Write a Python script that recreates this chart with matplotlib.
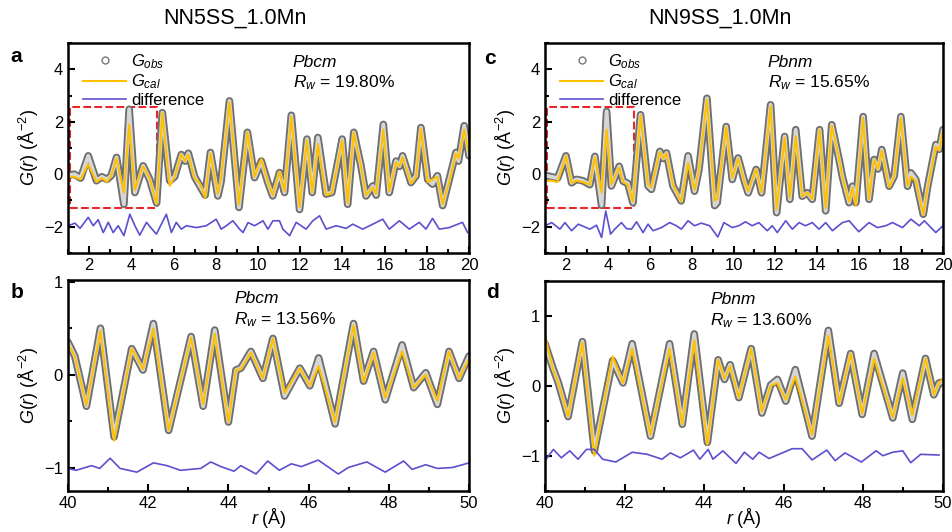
import matplotlib
matplotlib.use('agg')
import matplotlib.pyplot as plt
from matplotlib.lines import Line2D
from matplotlib.patches import Rectangle
from matplotlib.ticker import MultipleLocator

plt.rcParams['font.family'] = ['Liberation Sans', 'DejaVu Sans']
plt.rcParams['mathtext.fontset'] = 'custom'
plt.rcParams['mathtext.rm'] = 'Liberation Sans'
plt.rcParams['mathtext.it'] = 'Liberation Sans:italic'

# ---- panel a : NN5SS_1.0Mn, 1-20 A ----
r_a = [1.0, 1.3, 1.6, 1.96, 2.35, 2.6, 2.85, 3.05, 3.3, 3.65, 3.9, 4.17, 4.56, 4.87, 5.2,
       5.47, 5.82, 6.05, 6.37, 6.55, 6.7, 7.0, 7.25, 7.5, 7.75, 8.1, 8.25, 8.65, 9.1, 9.5,
       9.84, 10.16, 10.47, 10.7, 11.02, 11.26, 11.58, 11.97, 12.32, 12.57, 12.84, 13.23,
       13.5, 13.99, 14.25, 14.54, 14.88, 15.12, 15.44, 15.6, 15.94, 16.22, 16.54, 16.7,
       16.85, 17.25, 17.49, 17.72, 18.04, 18.27, 18.5, 18.75, 19.06, 19.38, 19.5, 19.77, 20.0]
obs_a = [-0.05, 0.0, -0.15, 0.7, -0.25, -0.1, -0.2, -0.05, 0.64, -1.15, 2.48, -0.7, 0.32, -0.2, -1.1,
         2.35, -0.25, -0.1, 0.75, 0.5, 0.8, -0.1, -0.45, -0.8, 0.83, -0.83, -0.3, 2.8, -1.27, 1.6,
         -0.13, 0.5, -0.32, -0.83, 0.06, -0.7, 2.25, -1.35, 1.34, -0.7, 1.4, -0.76,
         -0.7, 1.34, -1.15, 1.6, 0.32, -0.83, -0.45, -0.8, 1.9, -0.7, 0.5, 0.3,
         0.7, -0.32, -0.06, 1.78, -0.2, -0.38, -0.06, -1.2, -0.2, 0.83, 0.5, 1.85, 0.7]
cal_a = [-0.1, -0.1, -0.2, 0.38, -0.3, -0.15, -0.3, -0.05, 0.6, -0.7, 1.9, -0.6, 0.3, -0.15, -1.15,
         2.35, -0.45, -0.1, 0.76, 0.5, 0.75, -0.15, -0.35, -0.9, 0.8, -0.75, -0.2, 2.75, -1.15, 1.6,
         -0.1, 0.57, -0.3, -0.8, 0.1, -0.65, 2.2, -1.25, 1.3, -0.7, 1.15, -0.8,
         -0.72, 1.3, -1.1, 1.6, 0.3, -0.8, -0.5, -0.75, 1.7, -0.65, 0.45, 0.3,
         0.65, -0.35, -0.1, 1.75, -0.3, -0.2, -0.1, -1.15, -0.3, 0.8, 0.6, 1.7, 0.8]
rd_a = [1.02, 1.33, 1.57, 1.96, 2.2, 2.43, 2.67, 2.91, 3.14, 3.38, 3.65, 3.93, 4.17, 4.4, 4.72,
        4.95, 5.19, 5.66, 5.9, 6.13, 6.37, 6.61, 7.08, 7.55, 8.02, 8.26, 8.5, 8.81, 9.13, 9.29,
        9.53, 9.84, 10.24, 10.47, 10.71, 11.02, 11.18, 11.5, 11.81, 12.28, 12.6, 12.92, 13.23,
        13.7, 14.18, 14.49, 14.96, 15.44, 15.91, 16.22, 16.7, 17.17, 17.64, 17.96, 18.27,
        18.59, 19.06, 19.69, 19.93]
diff_a = [-1.97, -1.87, -2.07, -1.65, -1.97, -1.74, -2.23, -1.84, -2.23, -1.97, -2.35, -1.53, -1.97, -2.33, -1.84,
          -2.07, -2.29, -1.53, -2.23, -1.84, -2.1, -1.97, -2.04, -1.97, -1.72, -2.1, -1.97, -1.78, -2.1, -2.23,
          -1.85, -1.97, -1.78, -2.1, -1.78, -1.78, -2.1, -2.35, -1.84, -2.1, -1.78, -1.59, -2.1,
          -1.97, -2.07, -1.91, -2.1, -1.91, -1.72, -2.1, -1.78, -2.1, -1.84, -2.1, -1.69,
          -2.1, -2.04, -1.84, -2.23]

# ---- panel b : NN5SS_1.0Mn, 40-50 A ----
r_b = [40.0, 40.17, 40.46, 40.81, 41.15, 41.59, 41.87, 42.13, 42.51, 43.07, 43.37, 43.66, 44.0,
       44.19, 44.31, 44.56, 44.86, 45.11, 45.4, 45.78, 46.03, 46.25, 46.66, 47.12, 47.37, 47.62,
       47.91, 48.33, 48.62, 48.92, 49.21, 49.5, 49.75, 50.0]
obs_b = [0.35, 0.2, -0.34, 0.5, -0.67, 0.28, 0.05, 0.55, -0.6, 0.41, -0.34, 0.48, -0.51,
         0.05, 0.07, 0.25, -0.04, 0.39, -0.23, 0.07, -0.12, 0.18, -0.53, 0.55, -0.07, 0.25,
         -0.27, 0.32, -0.14, 0.02, -0.32, 0.25, -0.04, 0.2]
cal_b = [0.33, 0.2, -0.33, 0.47, -0.71, 0.28, 0.06, 0.5, -0.6, 0.4, -0.32, 0.44, -0.51,
         0.05, 0.06, 0.24, -0.04, 0.39, -0.2, 0.07, -0.12, 0.09, -0.51, 0.53, -0.08, 0.24,
         -0.25, 0.25, -0.14, 0.0, -0.28, 0.25, -0.04, 0.17]
rd_b = [40.0, 40.2, 40.59, 40.79, 41.05, 41.3, 41.72, 42.13, 42.47, 42.8, 43.31, 43.56, 43.81, 44.14,
        44.31, 44.69, 44.98, 45.27, 45.57, 45.82, 46.24, 46.74, 46.99, 47.45, 47.91, 48.37, 48.58,
        48.92, 49.21, 49.59, 50.0]
diff_b = [-1.01, -1.03, -0.98, -1.01, -0.9, -1.01, -1.05, -0.95, -0.98, -1.03, -1.01, -0.94, -0.99, -1.04,
          -0.98, -1.07, -0.93, -1.03, -0.96, -0.99, -0.92, -1.07, -1.0, -0.94, -1.05, -0.93, -1.02,
          -0.97, -1.01, -1.0, -0.95]

# ---- panel c : NN9SS_1.0Mn, 1-20 A ----
r_c = [1.0, 1.3, 1.6, 2.0, 2.27, 2.5, 2.8, 3.14, 3.38, 3.7, 3.94, 4.17, 4.54, 4.73, 4.95, 5.2,
       5.56, 5.92, 6.08, 6.48, 6.65, 6.8, 7.11, 7.5, 7.83, 8.14, 8.35, 8.73, 9.1, 9.22, 9.65,
       9.94, 10.22, 10.54, 10.7, 11.08, 11.34, 11.77, 12.06, 12.44, 12.69, 12.97, 13.28, 13.52,
       13.76, 14.11, 14.4, 14.69, 15.04, 15.2, 15.52, 15.68, 15.84, 16.19, 16.47, 16.71, 16.9,
       17.08, 17.43, 17.67, 17.99, 18.31, 18.47, 18.7, 19.06, 19.27, 19.66, 19.82, 20.0]
obs_c = [-0.05, -0.1, -0.15, 0.7, -0.33, -0.2, -0.25, -0.4, 0.68, -1.19, 2.4, -0.45, 0.3, -0.27, -0.35, -1.09,
         2.27, -0.45, -0.58, 0.87, 0.6, 0.81, -0.45, -1.02, 0.7, -0.65, 0.18, 2.9, -1.2, -1.09, 1.82,
         -0.2, 0.62, -0.33, -0.71, 0.18, -0.71, 2.65, -1.47, 1.44, -0.96, 1.7, -0.84, -0.71,
         -0.96, 1.7, -1.4, 1.89, 0.56, -0.1, -1.09, -0.46, -1.09, 2.2, -0.96, 0.56, 0.2,
         0.94, -0.46, -0.08, 2.2, -0.46, 0.05, -0.2, -1.53, -0.46, 1.13, 0.95, 1.7]
cal_c = [-0.25, -0.25, -0.3, 0.7, -0.33, -0.25, -0.3, -0.4, 0.65, -0.7, 1.7, -0.4, 0.25, -0.3, -0.4, -1.05,
         2.25, -0.4, -0.5, 0.85, 0.6, 0.8, -0.4, -1.05, 0.43, -0.6, 0.15, 2.85, -1.0, -0.96, 1.8,
         -0.15, 0.6, -0.35, -0.65, 0.2, -0.7, 2.6, -1.35, 1.4, -0.9, 1.45, -0.85, -0.7,
         -0.95, 1.7, -1.3, 1.85, 0.6, -0.1, -1.05, -0.5, -1.2, 2.15, -0.95, 0.55, 0.2,
         0.9, -0.5, -0.1, 2.15, -0.45, -0.1, -0.25, -1.55, -0.5, 1.05, 0.9, 1.65]
rd_c = [1.0, 1.32, 1.71, 1.95, 2.27, 2.59, 3.14, 3.46, 3.7, 3.9, 4.13, 4.33, 4.65, 4.89, 5.13,
        5.37, 5.68, 5.92, 6.16, 6.56, 6.95, 7.27, 7.51, 7.83, 8.14, 8.46, 8.86, 9.25, 9.54,
        9.94, 10.25, 10.57, 10.89, 11.21, 11.61, 11.85, 12.09, 12.49, 12.81, 13.13, 13.44,
        13.76, 14.08, 14.4, 14.72, 15.2, 15.52, 15.98, 16.47, 16.87, 17.27, 17.59, 18.07,
        18.47, 18.87, 19.11, 19.66, 20.0]
diff_c = [-1.97, -1.85, -2.1, -1.85, -2.16, -1.91, -2.1, -1.95, -2.42, -1.41, -2.29, -2.1, -1.85, -2.08, -2.1,
          -1.82, -2.23, -1.91, -2.16, -2.04, -1.85, -1.97, -2.1, -1.78, -1.97, -1.87, -1.97, -2.4, -1.85,
          -2.04, -1.97, -1.82, -1.97, -1.85, -2.16, -1.97, -2.23, -1.78, -2.1, -1.85, -1.97,
          -1.85, -2.1, -1.85, -2.16, -1.85, -1.78, -2.2, -1.85, -2.04, -1.97, -1.85, -2.04,
          -1.72, -1.97, -1.78, -2.23, -1.97]

# ---- panel d : NN9SS_1.0Mn, 40-50 A ----
r_d = [40.0, 40.2, 40.33, 40.58, 40.94, 41.24, 41.7, 41.96, 42.19, 42.65, 43.13, 43.45, 43.75,
       44.08, 44.35, 44.51, 44.65, 44.87, 45.18, 45.45, 45.67, 45.84, 46.05, 46.29, 46.71,
       47.12, 47.39, 47.68, 47.97, 48.27, 48.74, 48.99, 49.23, 49.56, 49.77, 49.9, 50.0]
obs_d = [0.6, 0.25, 0.05, -0.44, 0.63, -0.93, 0.36, 0.04, 0.6, -0.72, 0.6, -0.55, 0.74,
         -0.81, 0.37, 0.09, 0.3, -0.17, 0.53, -0.39, 0.01, 0.09, -0.22, 0.23, -0.72,
         0.79, -0.25, 0.46, -0.41, 0.46, -0.46, 0.18, -0.48, 0.39, -0.13, 0.04, 0.05]
cal_d = [0.72, 0.23, 0.05, -0.44, 0.62, -1.0, 0.42, 0.04, 0.53, -0.7, 0.53, -0.55, 0.65,
         -0.84, 0.37, 0.1, 0.28, -0.17, 0.53, -0.37, 0.0, 0.04, -0.2, 0.13, -0.7,
         0.72, -0.25, 0.46, -0.4, 0.39, -0.45, 0.11, -0.42, 0.39, -0.13, 0.04, 0.1]
rd_d = [40.0, 40.21, 40.41, 40.62, 40.83, 41.04, 41.24, 41.45, 41.78, 42.19, 42.57, 42.94, 43.15,
        43.4, 43.73, 43.89, 44.1, 44.22, 44.47, 44.8, 45.01, 45.22, 45.38, 45.63, 45.96, 46.21,
        46.46, 46.71, 47.08, 47.29, 47.54, 47.95, 48.32, 48.49, 48.74, 48.99, 49.19, 49.44, 49.9]
diff_d = [-1.07, -0.91, -1.03, -0.93, -1.05, -0.91, -0.91, -1.05, -1.09, -0.95, -0.98, -1.05, -0.96,
          -1.03, -0.92, -1.05, -0.91, -1.05, -0.93, -1.11, -0.95, -1.05, -0.95, -1.04, -0.96, -0.9,
          -0.9, -1.06, -0.92, -1.07, -0.96, -1.09, -0.93, -1.0, -0.95, -0.93, -1.1, -0.98, -0.99]

titles = ['NN5SS_1.0Mn', 'NN9SS_1.0Mn']
groups = ['Pbcm', 'Pbcm', 'Pbnm', 'Pbnm']
rw = ['19.80%', '13.56%', '15.65%', '13.60%']

obs_col = '#6f6f6f'
cal_col = '#FFC000'
diff_col = '#5B4FCF'

fig = plt.figure(figsize=(9.52, 5.32), dpi=100)
ax_a = fig.add_axes([0.0714, 0.525, 0.4213, 0.3936])
ax_b = fig.add_axes([0.0714, 0.0776, 0.4213, 0.3962])
ax_c = fig.add_axes([0.5725, 0.525, 0.418, 0.3936])
ax_d = fig.add_axes([0.5725, 0.0776, 0.418, 0.3947])

panels = [
    (ax_a, r_a, obs_a, cal_a, rd_a, diff_a, (1, 20), (-3, 5)),
    (ax_b, r_b, obs_b, cal_b, rd_b, diff_b, (40, 50), (-1.25, 1.02)),
    (ax_c, r_c, obs_c, cal_c, rd_c, diff_c, (1, 20), (-3, 5)),
    (ax_d, r_d, obs_d, cal_d, rd_d, diff_d, (40, 50), (-1.5, 1.5)),
]

for i, (ax, r, obs, cal, rd, dif, xl, yl) in enumerate(panels):
    # observed drawn as a hollow grey band to mimic the overlapping open circles
    ax.plot(r, obs, color=obs_col, lw=5.5, solid_joinstyle='round', solid_capstyle='round')
    ax.plot(r, obs, color='#d6d6d6', lw=2.8, solid_joinstyle='round', solid_capstyle='round')
    ax.plot(r, cal, color=cal_col, lw=1.5, solid_joinstyle='round')
    ax.plot(rd, dif, color=diff_col, lw=1.2, solid_joinstyle='round')

    ax.set_xlim(*xl)
    ax.set_ylim(*yl)
    ax.xaxis.set_major_locator(MultipleLocator(2))
    ax.xaxis.set_minor_locator(MultipleLocator(1))
    if yl[1] > 2:
        ax.yaxis.set_major_locator(MultipleLocator(2))
        ax.yaxis.set_minor_locator(MultipleLocator(1))
    else:
        ax.yaxis.set_major_locator(MultipleLocator(1))
        ax.yaxis.set_minor_locator(MultipleLocator(0.5))
    ax.tick_params(which='both', direction='in', labelsize=12, width=1.5)
    ax.tick_params(which='major', length=5)
    ax.tick_params(which='minor', length=3)
    for s in ax.spines.values():
        s.set_linewidth(1.8)
    ax.set_ylabel(r'$G$($r$) (Å$^{-2}$)', fontsize=13, labelpad=2)

    x0 = xl[0] + (xl[1] - xl[0]) * (0.56 if xl[0] < 10 else 0.415)
    yt = yl[1] - (yl[1] - yl[0]) * 0.09
    yr = yl[1] - (yl[1] - yl[0]) * 0.19
    ax.text(x0, yt, groups[i], fontsize=12.5, style='italic', va='center')
    ax.text(x0, yr, r'$R_w$ = ' + rw[i], fontsize=12.5, va='center')

for ax in (ax_b, ax_d):
    ax.set_xlabel(r'$r$ (Å)', fontsize=13, labelpad=-3)

# dashed boxes around the low-r region
ax_a.add_patch(Rectangle((1.08, -1.28), 4.14, 3.86, fill=False, ec='#e8262a', ls='--', lw=1.5))
ax_c.add_patch(Rectangle((1.08, -1.28), 4.16, 3.84, fill=False, ec='#e8262a', ls='--', lw=1.5))

handles = [Line2D([], [], marker='o', ls='none', mfc='white', mec='#777777', ms=5),
           Line2D([], [], color=cal_col, lw=1.5),
           Line2D([], [], color=diff_col, lw=1.2)]
labels = [r'$G_{obs}$', r'$G_{cal}$', 'difference']
for ax in (ax_a, ax_c):
    ax.legend(handles, labels, loc='upper left', bbox_to_anchor=(0.0, 1.03), frameon=False,
              fontsize=12, handlelength=2.6, labelspacing=0.1, handletextpad=0.3)

fig.text(235 / 952, 1 - 18 / 532, titles[0], fontsize=15.5, ha='center', va='center')
fig.text(720 / 952, 1 - 18 / 532, titles[1], fontsize=15.5, ha='center', va='center')
for letter, (px, py) in zip('abcd', [(16, 57), (17, 293), (490, 58), (492, 293)]):
    fig.text(px / 952, 1 - py / 532, letter, fontsize=15, fontweight='bold', ha='center', va='center')

plt.savefig('out.png', dpi=100)
plt.close()
